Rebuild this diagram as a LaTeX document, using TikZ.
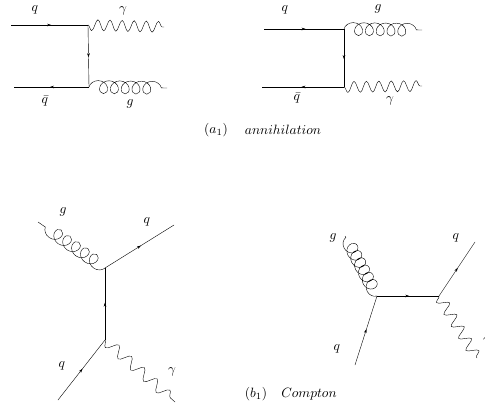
\documentclass[tikz,border=0pt]{standalone}
\usepackage{amsmath}
\usepackage{tikz}
\usetikzlibrary{arrows.meta, decorations.pathmorphing, decorations.markings}

\begin{document}
\begin{tikzpicture}[
    x=1pt, y=-1pt,
    every node/.style={scale=1.35, inner sep=0pt},
    fermion/.style={thin, postaction={decorate}, decoration={markings, mark=at position #1 with {\arrow{Stealth[length=4pt, width=2.6pt]}}}},
    fermion/.default={0.52},
    photon/.style={thin, decorate, decoration={snake, mirror, segment length=#1, amplitude=5.5pt}},
    photon/.default={12.1pt},
    gluon/.style={thin, decorate, decoration={coil, aspect=1, segment length=#1, amplitude=6.5pt}},
    gluon/.default={10.8pt}
]
\useasboundingbox (0,0) rectangle (485,404);
\clip (0,0) rectangle (485,404);

% Row 1: annihilation, photon on top
\coordinate (inA) at (11,25);
\coordinate (topA) at (88,25);
\coordinate (botA) at (89,87);
\coordinate (outA) at (14,87);
\coordinate (phoA) at (164,27);
\coordinate (gluA) at (167,88);
\draw[fermion] (inA) -- (topA);
\draw[fermion] (topA) -- (botA);
\draw[fermion] (botA) -- (outA);
\draw[photon] (topA) -- (phoA);
\draw[gluon] (botA) -- (gluA);
\node (qA) at (35,10) {$q$};
\node (gammaA) at (123,11) {$\gamma$};
\node (qbarA) at (45,101) {$\bar q$};
\node (gA) at (130,104) {$g$};

% Row 1: annihilation, gluon on top
\coordinate (inB) at (264,29);
\coordinate (topB) at (344,29);
\coordinate (botB) at (344,87);
\coordinate (outB) at (262,87);
\coordinate (gluB) at (422,30);
\coordinate (phoB) at (422,86);
\draw[fermion] (inB) -- (topB);
\draw[fermion] (topB) -- (botB);
\draw[fermion] (botB) -- (outB);
\draw[gluon] (topB) -- (gluB);
\draw[photon=12.4pt] (botB) -- (phoB);
\node (qB) at (285,10) {$q$};
\node (gB) at (378,9) {$g$};
\node (qbarB) at (297,98) {$\bar q$};
\node (gammaB) at (390,101) {$\gamma$};

% Caption a
\node (capA) at (216,130) {$(a_1)$};
\node (annih) at (283,130) {$annihilation$};

% Row 2: Compton, vertical
\coordinate (gluC) at (38,222);
\coordinate (topC) at (105,268);
\coordinate (outC) at (174,225);
\coordinate (botC) at (105,340);
\coordinate (inC) at (58,400);
\coordinate (phoC) at (175,402);
\draw[gluon] (topC) -- (gluC);
\draw[fermion] (topC) -- (outC);
\draw[fermion] (botC) -- (topC);
\draw[fermion] (inC) -- (botC);
\draw[photon=17pt] (botC) -- (phoC);
\node (gC) at (63,212) {$g$};
\node (qC) at (147,222) {$q$};
\node (qinC) at (62,366) {$q$};
\node (gammaC) at (172,372) {$\gamma$};

% Row 2: Compton, horizontal
\coordinate (gluD) at (345,236);
\coordinate (leftD) at (377,296);
\coordinate (rightD) at (439,296);
\coordinate (outD) at (475,242);
\coordinate (inD) at (355,365);
\coordinate (phoD) at (477,358);
\draw[gluon=8.2pt] (leftD) -- (gluD);
\draw[fermion] (leftD) -- (rightD);
\draw[fermion] (rightD) -- (outD);
\draw[fermion] (inD) -- (leftD);
\draw[photon=14pt] (rightD) -- (phoD);
\node (gD) at (333,238) {$g$};
\node (qD) at (456,238) {$q$};
\node (qinD) at (337,349) {$q$};
\node (gammaD) at (487,342) {$\gamma$};

% Caption b
\node (capB) at (256,394) {$(b_1)$};
\node (compton) at (309,394) {$Compton$};

\end{tikzpicture}
\end{document}
